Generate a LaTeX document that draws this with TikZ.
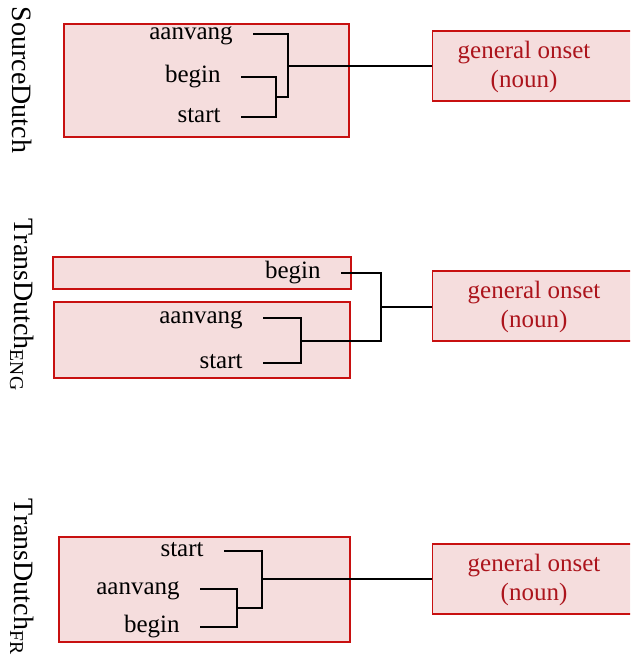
\documentclass[tikz,border=0pt]{standalone}
\usepackage{fontspec}
\setmainfont{Liberation Serif}
\usetikzlibrary{math}
\definecolor{pfill}{RGB}{245,221,221}
\definecolor{pred}{RGB}{200,16,16}
\definecolor{sred}{RGB}{172,20,28}

\begin{document}
\begin{tikzpicture}[x=0.5pt,y=-0.5pt,
  every node/.style={font=\fontsize{12.5}{14.5}\selectfont},
  wordbox/.style={draw=pred, fill=pfill, line width=0.6pt, inner sep=0pt},
  word/.style={anchor=east, inner xsep=10pt, inner ysep=0pt, text height=5.6pt, text depth=0pt},
  dendro/.style={line width=0.6pt, black},
  sensebox/.style={wordbox, anchor=west, minimum width=110pt, minimum height=35pt},
  sensetext/.style={text=sred, align=center},
  panel/.style={rotate=-90, font=\fontsize{14}{16}\selectfont}]
\tikzmath{
\xs=432;
}
\useasboundingbox (0,0) rectangle (630,656);
\clip (0,0) rectangle (630,656);

%panel labels
\node[panel] (l1) at (22,80) {SourceDutch};
\node[panel] (l2) at (22,305) {TransDutch\textsubscript{ENG}};
\node[panel] (l3) at (22,577) {TransDutch\textsubscript{FR}};

%sense boxes
\foreach \n/\y/\t in {1/66/524, 2/306/534, 3/579/534}{
  \node[sensebox] (s\n) at (\xs,\y) {};
  \node[sensetext] (t\n) at (\t,\y+1) {general onset\\(noun)};
}

%word boxes
\node[wordbox, minimum width=142.5pt, minimum height=56.5pt] (b1) at (206.5,80.5) {};
\node[wordbox, minimum width=149pt, minimum height=16pt] (b2a) at (202,273) {};
\node[wordbox, minimum width=148pt, minimum height=38pt] (b2b) at (202,340) {};
\node[wordbox, minimum width=145.5pt, minimum height=52.5pt] (b3) at (204.5,589.5) {};

%words
\node[word] (w1a) at (253,34) {aanvang};
\node[word] (w1b) at (241,77) {begin};
\node[word] (w1c) at (241,117) {start};
\node[word] (w2b) at (341,273) {begin};
\node[word] (w2a) at (263,318) {aanvang};
\node[word] (w2c) at (263,363) {start};
\node[word] (w3a) at (224,551) {start};
\node[word] (w3b) at (200,589) {aanvang};
\node[word] (w3c) at (200,627) {begin};

%joins
\coordinate (j1) at (276,97);
\coordinate (k1) at (288,66);
\coordinate (j2) at (301,341);
\coordinate (k2) at (381,307);
\coordinate (j3) at (237,608);
\coordinate (k3) at (262,579);

%dendrograms
\draw[dendro] (w1b.east) -| (j1) |- (w1c.east);
\draw[dendro] (w1a.east) -| (j1 -| k1) -- (j1);
\draw[dendro] (k1) -- (k1 -| s1.west);

\draw[dendro] (w2a.east) -| (j2) |- (w2c.east);
\draw[dendro] (w2b.east) -| (j2 -| k2) -- (j2);
\draw[dendro] (k2) -- (k2 -| s2.west);

\draw[dendro] (w3b.east) -| (j3) |- (w3c.east);
\draw[dendro] (w3a.east) -| (j3 -| k3) -- (j3);
\draw[dendro] (k3) -- (k3 -| s3.west);

\end{tikzpicture}
\end{document}
